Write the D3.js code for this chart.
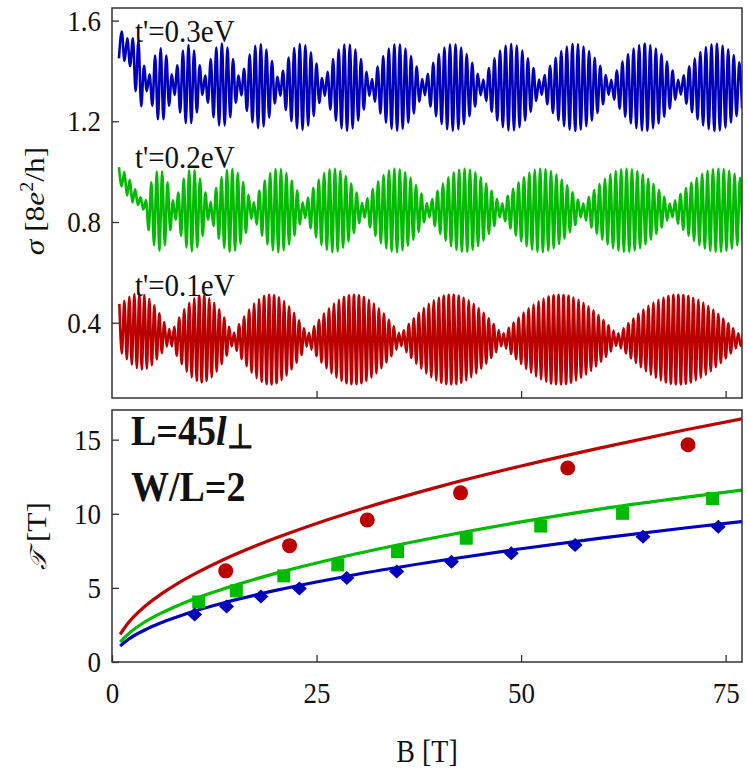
<!DOCTYPE html>
<html>
<head>
<meta charset="utf-8">
<script src="https://cdn.jsdelivr.net/npm/d3@7"></script>
<style>
  body { margin: 0; background: #fff; }
  svg { display: block; }
  text { font-family: "Liberation Serif", "Times New Roman", serif; fill: #111; }
</style>
</head>
<body>
<svg id="chart"></svg>
<script>
var w = 747;
var h = 779;

// ---- top panel: conductance traces, extrema ----
// each trace is sampled at a constant step in B (one value per extremum)
var blueStart = 0.85, blueStep = 0.34;
var blueSigma = [
  1.45, 1.556, 1.44, 1.53, 1.42, 1.53, 1.32, 1.52, 1.26, 1.42, 1.32,
  1.387, 1.262, 1.461, 1.208, 1.490, 1.208, 1.461, 1.262, 1.387,
  1.305, 1.422, 1.235, 1.481, 1.193, 1.503, 1.193, 1.481, 1.235, 1.422, 1.305,
  1.382, 1.274, 1.447, 1.216, 1.493, 1.184, 1.510, 1.184, 1.493, 1.216, 1.447, 1.274, 1.382,
  1.303, 1.409, 1.241, 1.465, 1.195, 1.500, 1.173, 1.507, 1.180, 1.485, 1.215, 1.439, 1.271, 1.377,
  1.302, 1.401, 1.245, 1.453, 1.200, 1.491, 1.172, 1.508, 1.166, 1.502, 1.183, 1.474, 1.221, 1.429, 1.273, 1.372,
  1.301, 1.397, 1.247, 1.447, 1.202, 1.485, 1.172, 1.505, 1.162, 1.505, 1.172, 1.485, 1.202, 1.447, 1.247, 1.397, 1.301,
  1.368, 1.278, 1.417, 1.231, 1.459, 1.194, 1.489, 1.170, 1.506, 1.162, 1.506, 1.170, 1.489, 1.194, 1.459, 1.231, 1.417, 1.278, 1.368,
  1.304, 1.389, 1.259, 1.432, 1.220, 1.467, 1.189, 1.493, 1.169, 1.506, 1.162, 1.506, 1.169, 1.493, 1.189, 1.467, 1.220, 1.432, 1.259, 1.389, 1.304,
  1.366, 1.281, 1.411, 1.238, 1.450, 1.203, 1.481, 1.177, 1.501, 1.164, 1.508, 1.164, 1.501, 1.177, 1.481, 1.203, 1.450, 1.238, 1.411, 1.281, 1.366,
  1.305, 1.384, 1.268, 1.420, 1.233, 1.452, 1.203, 1.479, 1.181, 1.497, 1.167, 1.507, 1.162, 1.507, 1.167, 1.497, 1.181, 1.479, 1.203, 1.452, 1.233, 1.420, 1.268, 1.384, 1.305,
  1.365, 1.286, 1.402, 1.250, 1.437, 1.218, 1.467, 1.191, 1.489, 1.173, 1.503, 1.163, 1.508, 1.163, 1.503, 1.173, 1.489, 1.191, 1.467, 1.218, 1.437, 1.250, 1.402, 1.286, 1.365,
  1.306, 1.383, 1.270, 1.418, 1.236, 1.449, 1.207, 1.475, 1.184, 1.495, 1.169, 1.506, 1.162, 1.508, 1.164, 1.501, 1.175, 1.486, 1.195, 1.463, 1.221, 1.434, 1.252
];

var greenStart = 0.85, greenStep = 0.33;
var greenSigma = [
  1.018, 0.942, 0.998, 0.905, 0.968, 0.878, 0.930, 0.868, 0.898, 0.850,
  0.886, 0.768, 0.958, 0.708, 1.000, 0.686, 1.000, 0.708, 0.958, 0.768, 0.886,
  0.809, 0.917, 0.745, 0.973, 0.699, 1.005, 0.683, 1.005, 0.699, 0.973, 0.745, 0.917, 0.809,
  0.880, 0.784, 0.935, 0.733, 0.979, 0.697, 1.006, 0.681, 1.011, 0.686, 0.995, 0.713, 0.959, 0.757, 0.908, 0.812,
  0.878, 0.790, 0.925, 0.746, 0.965, 0.711, 0.994, 0.688, 1.010, 0.680, 1.010, 0.688, 0.994, 0.711, 0.965, 0.746, 0.925, 0.790, 0.878,
  0.816, 0.897, 0.775, 0.936, 0.739, 0.969, 0.709, 0.994, 0.689, 1.009, 0.680, 1.012, 0.683, 1.003, 0.698, 0.983, 0.723, 0.953, 0.756, 0.917, 0.795, 0.876,
  0.817, 0.894, 0.779, 0.931, 0.745, 0.962, 0.716, 0.987, 0.695, 1.004, 0.683, 1.012, 0.680, 1.009, 0.688, 0.997, 0.705, 0.976, 0.730, 0.947, 0.761, 0.913, 0.798, 0.875,
  0.818, 0.891, 0.784, 0.924, 0.753, 0.953, 0.726, 0.978, 0.704, 0.997, 0.689, 1.008, 0.681, 1.012, 0.681, 1.008, 0.689, 0.997, 0.704, 0.978, 0.726, 0.953, 0.753, 0.924, 0.784, 0.891, 0.818,
  0.874, 0.803, 0.904, 0.774, 0.932, 0.746, 0.958, 0.723, 0.979, 0.704, 0.996, 0.690, 1.007, 0.682, 1.012, 0.680, 1.010, 0.685, 1.002, 0.696, 0.988, 0.713, 0.969, 0.734, 0.946, 0.760, 0.918, 0.788, 0.889, 0.818,
  0.873, 0.805, 0.900, 0.778, 0.927, 0.753, 0.951, 0.730, 0.972, 0.711, 0.989, 0.696, 1.002, 0.686, 1.009, 0.681, 1.012, 0.681, 1.009, 0.686, 1.002, 0.696, 0.989, 0.711, 0.972, 0.730, 0.951, 0.753, 0.927, 0.778, 0.900, 0.805, 0.873,
  0.819, 0.886, 0.793, 0.911, 0.769, 0.935, 0.746, 0.957, 0.725, 0.976, 0.708, 0.991, 0.694, 1.003, 0.685, 1.010, 0.681, 1.012, 0.681, 1.010, 0.685, 1.003, 0.694, 0.991, 0.708, 0.976, 0.725
];

var redStart = 0.9, redStep = 0.305;
var redSigma = [
  0.475, 0.278, 0.487, 0.255, 0.503, 0.233, 0.514, 0.220, 0.516, 0.214, 0.510, 0.217, 0.495, 0.231, 0.469, 0.254, 0.437, 0.280, 0.403, 0.305, 0.375,
  0.306, 0.384, 0.269, 0.421, 0.235, 0.453, 0.205, 0.479, 0.183, 0.497, 0.169, 0.507, 0.164, 0.507, 0.169, 0.497, 0.183, 0.479, 0.205, 0.453, 0.235, 0.421, 0.269, 0.384, 0.306,
  0.361, 0.288, 0.394, 0.256, 0.425, 0.227, 0.452, 0.201, 0.476, 0.180, 0.494, 0.165, 0.506, 0.157, 0.511, 0.155, 0.509, 0.160, 0.501, 0.172, 0.486, 0.190, 0.465, 0.214, 0.439, 0.241, 0.410, 0.272, 0.378, 0.305,
  0.360, 0.293, 0.386, 0.267, 0.412, 0.242, 0.436, 0.219, 0.457, 0.199, 0.476, 0.182, 0.491, 0.169, 0.502, 0.160, 0.509, 0.156, 0.511, 0.156, 0.509, 0.160, 0.502, 0.169, 0.491, 0.182, 0.476, 0.199, 0.457, 0.219, 0.436, 0.242, 0.412, 0.267, 0.386, 0.293, 0.360,
  0.307, 0.371, 0.283, 0.395, 0.260, 0.418, 0.237, 0.439, 0.217, 0.458, 0.199, 0.475, 0.184, 0.489, 0.171, 0.499, 0.162, 0.507, 0.157, 0.511, 0.155, 0.511, 0.157, 0.507, 0.162, 0.499, 0.171, 0.489, 0.184, 0.475, 0.199, 0.458, 0.217, 0.439, 0.237, 0.418, 0.260, 0.395, 0.283, 0.371, 0.307,
  0.358, 0.297, 0.380, 0.276, 0.401, 0.255, 0.421, 0.236, 0.440, 0.217, 0.457, 0.201, 0.472, 0.187, 0.485, 0.175, 0.496, 0.166, 0.504, 0.159, 0.509, 0.156, 0.511, 0.155, 0.510, 0.157, 0.507, 0.162, 0.500, 0.170, 0.491, 0.181, 0.479, 0.194, 0.465, 0.209, 0.449, 0.226, 0.430, 0.245, 0.411, 0.265, 0.390, 0.286, 0.369, 0.308,
  0.358, 0.298, 0.378, 0.278, 0.398, 0.258, 0.417, 0.240, 0.435, 0.223, 0.452, 0.207, 0.467, 0.193, 0.480, 0.181, 0.491, 0.171, 0.499, 0.163, 0.506, 0.158, 0.510, 0.155, 0.511, 0.155, 0.510, 0.158, 0.506, 0.163, 0.499, 0.171, 0.491, 0.181, 0.480, 0.193, 0.467, 0.207, 0.452, 0.223, 0.435, 0.240, 0.417, 0.258, 0.398, 0.278, 0.378, 0.298, 0.358, 0.308, 0.365
];

var traceLabels = ["t'=0.3eV", "t'=0.2eV", "t'=0.1eV"];

// ---- bottom panel: beat period curves and simulation points ----
var curveB = [1, 2, 4, 6, 8, 10, 14, 20, 25, 30, 40, 50, 60, 70, 77];
var curveRed = [1.87, 2.64, 3.74, 4.58, 5.29, 5.91, 7.0, 8.36, 9.35, 10.24, 11.83, 13.22, 14.48, 15.65, 16.41];
var curveGreen = [1.35, 1.9, 2.7, 3.3, 3.8, 4.25, 5.0, 5.98, 6.68, 7.32, 8.45, 9.45, 10.35, 11.1, 11.6];
var curveBlue = [1.08, 1.53, 2.16, 2.65, 3.05, 3.42, 4.04, 4.83, 5.4, 5.92, 6.83, 7.64, 8.37, 9.04, 9.48];

var redPtsB = [13.9, 21.7, 31.2, 42.6, 55.7, 70.4];
var redPtsT = [6.15, 7.85, 9.58, 11.41, 13.09, 14.66];
var greenPtsB = [10.6, 15.2, 21.0, 27.6, 34.9, 43.3, 52.4, 62.4, 73.4];
var greenPtsT = [4.05, 4.8, 5.81, 6.55, 7.45, 8.35, 9.17, 10.03, 11.03];
var bluePtsB = [10.1, 14.0, 18.2, 22.9, 28.7, 34.8, 41.5, 48.8, 56.6, 64.9, 74.1];
var bluePtsT = [3.2, 3.75, 4.42, 4.95, 5.66, 6.1, 6.77, 7.34, 7.9, 8.45, 9.13];

var sigmaTicks = [0.4, 0.8, 1.2, 1.6];
var periodTicks = [0, 5, 10, 15];
var bTicks = [0, 25, 50, 75];

var cBlue = '#0000bb', cGreen = '#00bb00', cRed = '#bb0000';
var stretch = 1.12; // the reference lettering is a little taller than wide

var svg = d3.select('#chart').attr('width', w).attr('height', h);

var x = d3.scaleLinear().domain([0, 77]).range([112, 742]);
var yTop = d3.scaleLinear().domain([0.101, 1.65]).range([398, 8]);
var yBot = d3.scaleLinear().domain([0, 17]).range([662, 410]);

svg.append('clipPath').attr('id', 'clipTop')
  .append('rect').attr('x', x(0)).attr('y', yTop(1.65))
  .attr('width', x(77) - x(0)).attr('height', yTop(0.101) - yTop(1.65));
svg.append('clipPath').attr('id', 'clipBot')
  .append('rect').attr('x', x(0)).attr('y', yBot(17))
  .attr('width', x(77) - x(0)).attr('height', yBot(0) - yBot(17));

function styleAxis(g) {
  g.attr('font-family', null);
  g.select('.domain').remove();
  g.selectAll('.tick line').attr('stroke', '#333').attr('stroke-width', 1.3);
  g.selectAll('.tick text').attr('font-size', '27px').attr('fill', '#111')
    .style('font-family', '"Liberation Serif", serif')
    .attr('y', function () { return (+d3.select(this).attr('y') || 0) / stretch; })
    .attr('transform', 'scale(1,' + stretch + ')');
}

// place a text with the vertical stretch
function putText(xp, yp, size) {
  return svg.append('text')
    .attr('transform', 'translate(' + xp + ',' + yp + ') scale(1,' + stretch + ')')
    .attr('font-size', size);
}

// Top panel traces
var traces = [
  {start: blueStart, step: blueStep, values: blueSigma, color: cBlue},
  {start: greenStart, step: greenStep, values: greenSigma, color: cGreen},
  {start: redStart, step: redStep, values: redSigma, color: cRed}
];

var gTop = svg.append('g').attr('clip-path', 'url(#clipTop)');
traces.forEach(function (t) {
  var line = d3.line()
    .x(function (d, i) { return x(t.start + i * t.step); })
    .y(function (d) { return yTop(d); })
    .curve(d3.curveMonotoneX);
  gTop.append('path')
    .datum(t.values)
    .attr('d', line)
    .attr('fill', 'none')
    .attr('stroke', t.color)
    .attr('stroke-width', 2.6)
    .attr('stroke-linejoin', 'round');
});

// Top panel axes
svg.append('g').attr('transform', 'translate(' + x(0) + ',0)')
  .call(d3.axisLeft(yTop).tickValues(sigmaTicks).tickSize(-7).tickPadding(11)
    .tickFormat(d3.format('.1f')))
  .call(styleAxis);
svg.append('g').attr('transform', 'translate(0,' + yTop(0.101) + ')')
  .call(d3.axisBottom(x).tickValues([25, 50, 75]).tickSize(-7).tickFormat(''))
  .call(styleAxis);
svg.append('rect')
  .attr('x', x(0)).attr('y', yTop(1.65))
  .attr('width', x(77) - x(0)).attr('height', yTop(0.101) - yTop(1.65))
  .attr('fill', 'none').attr('stroke', '#333').attr('stroke-width', 1.5);

// Trace labels
var labelY = [42, 168, 296];
traceLabels.forEach(function (d, i) {
  putText(135, labelY[i], '29px').text(d);
});

// Y label top
var yl1 = svg.append('text')
  .attr('transform', 'translate(44,201) rotate(-90) scale(' + stretch + ',1)')
  .attr('text-anchor', 'middle')
  .attr('font-size', '28px');
yl1.append('tspan').attr('font-style', 'italic').text('σ');
yl1.append('tspan').text(' [8');
yl1.append('tspan').attr('font-style', 'italic').text('e');
yl1.append('tspan').attr('font-size', '18px').attr('dy', -11).text('2');
yl1.append('tspan').attr('dy', 11).text('/h]');

// Bottom panel curves
var gBot = svg.append('g').attr('clip-path', 'url(#clipBot)');
[[curveRed, cRed], [curveGreen, cGreen], [curveBlue, cBlue]].forEach(function (c) {
  var line = d3.line()
    .x(function (d, i) { return x(curveB[i]); })
    .y(function (d) { return yBot(d); })
    .curve(d3.curveMonotoneX);
  gBot.append('path')
    .datum(c[0])
    .attr('d', line)
    .attr('fill', 'none')
    .attr('stroke', c[1])
    .attr('stroke-width', 3.2);
});

// Markers
gBot.selectAll('circle.pt')
  .data(redPtsB)
  .enter()
  .append('circle')
  .attr('cx', function (d) { return x(d); })
  .attr('cy', function (d, i) { return yBot(redPtsT[i]); })
  .attr('r', 7.5)
  .attr('fill', cRed);

gBot.selectAll('rect.pt')
  .data(greenPtsB)
  .enter()
  .append('rect')
  .attr('x', function (d) { return x(d) - 6.5; })
  .attr('y', function (d, i) { return yBot(greenPtsT[i]) - 6.5; })
  .attr('width', 13)
  .attr('height', 13)
  .attr('fill', cGreen);

gBot.selectAll('path.pt')
  .data(bluePtsB)
  .enter()
  .append('path')
  .attr('d', function (d, i) {
    var cx = x(d), cy = yBot(bluePtsT[i]);
    return 'M' + (cx - 7.5) + ',' + cy + 'L' + cx + ',' + (cy - 7) +
      'L' + (cx + 7.5) + ',' + cy + 'L' + cx + ',' + (cy + 7) + 'Z';
  })
  .attr('fill', cBlue);

// Bottom panel axes
svg.append('g').attr('transform', 'translate(' + x(0) + ',0)')
  .call(d3.axisLeft(yBot).tickValues(periodTicks).tickSize(-7).tickPadding(11))
  .call(styleAxis);
svg.append('g').attr('transform', 'translate(0,' + yBot(0) + ')')
  .call(d3.axisBottom(x).tickValues(bTicks).tickSize(-7).tickPadding(20))
  .call(styleAxis);
svg.append('rect')
  .attr('x', x(0)).attr('y', yBot(17))
  .attr('width', x(77) - x(0)).attr('height', yBot(0) - yBot(17))
  .attr('fill', 'none').attr('stroke', '#333').attr('stroke-width', 1.5);

// Annotations
var ann1 = putText(131, 445, '38px').attr('font-weight', 'bold');
ann1.append('tspan').text('L=45');
ann1.append('tspan').attr('font-style', 'italic').text('l');
ann1.append('tspan').attr('font-size', '30px').attr('dy', 3).text('⊥');

putText(131, 501, '38px').attr('font-weight', 'bold').text('W/L=2');

// Y label bottom
var yl2 = svg.append('text')
  .attr('transform', 'translate(46,536) rotate(-90) scale(' + stretch + ',1)')
  .attr('text-anchor', 'middle')
  .attr('font-size', '28px');
yl2.append('tspan').style('font-family', '"DejaVu Serif", serif')
  .attr('font-style', 'italic').attr('font-size', '23px').text('𝒯');
yl2.append('tspan').text(' [T]');

// X label
putText(427, 762, '28px').attr('text-anchor', 'middle').text('B [T]');
</script>
</body>
</html>
